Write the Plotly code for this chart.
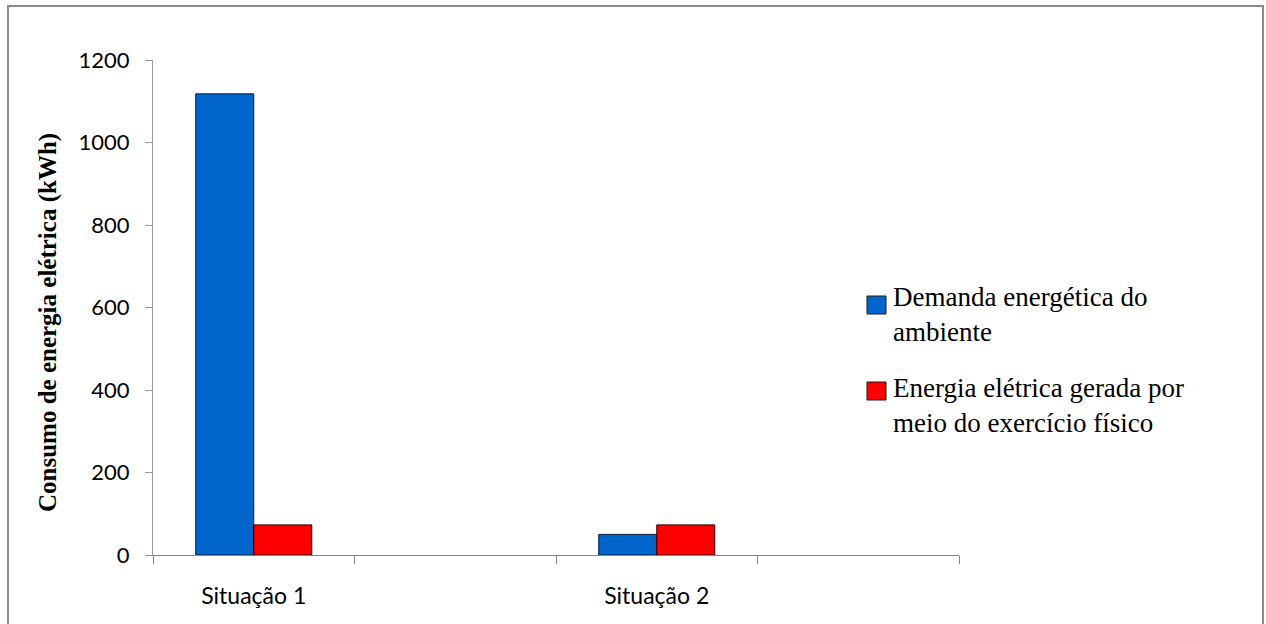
import plotly.graph_objects as go

# Category slots on the x axis (two blank slots keep the spacing)
categories = ["Situação 1", " ", "Situação 2", "  "]
demanda = [1118, None, 50, None]
gerada = [73, None, 73, None]

series_names = [
    "Demanda energética do<br>ambiente",
    "Energia elétrica gerada por<br>meio do exercício físico",
]
series_colors = ["#0066CC", "#FF0000"]
y_ticks = [0, 200, 400, 600, 800, 1000, 1200]

W, H = 1266, 624
ML, MR, MT, MB = 153, 307, 60, 69
PW, PH = W - ML - MR, H - MT - MB


def px(x):
    return (x - ML) / PW


def py(y):
    return (H - MB - y) / PH


fig = go.Figure()
for vals, name, color, edge in [
    (demanda, series_names[0], series_colors[0], "#0b1f3f"),
    (gerada, series_names[1], series_colors[1], "#2a0000"),
]:
    fig.add_trace(go.Bar(
        x=categories, y=vals, name=name,
        marker=dict(color=color, line=dict(color=edge, width=1)),
        showlegend=False,
    ))

# Legend drawn as squares plus text blocks
shapes = []
annotations = []
legend_rows = [(296, 314), (382, 405)]
for (sq_top, text_mid), name, color in zip(legend_rows, series_names, series_colors):
    shapes.append(dict(
        type="rect", xref="paper", yref="paper",
        x0=px(867), x1=px(886), y0=py(sq_top), y1=py(sq_top + 18),
        fillcolor=color, line=dict(color="#1a1a1a", width=1),
    ))
    annotations.append(dict(
        xref="paper", yref="paper", x=px(891), y=py(text_mid),
        xanchor="left", yanchor="middle", align="left", showarrow=False,
        text=name,
        font=dict(family="Liberation Serif", size=27, color="black"),
    ))

# Axis title
annotations.append(dict(
    xref="paper", yref="paper", x=px(48), y=py(323),
    xanchor="center", yanchor="middle", showarrow=False, textangle=-90,
    text="<b>Consumo de energia elétrica (kWh)</b>",
    font=dict(family="Liberation Serif", size=25, color="black"),
))

# Chart frame
shapes.append(dict(
    type="rect", xref="paper", yref="paper",
    x0=px(8), x1=px(1263), y0=py(632), y1=py(6),
    line=dict(color="#8a8a8a", width=2), fillcolor="rgba(0,0,0,0)",
    layer="below",
))

fig.update_layout(
    width=W, height=H,
    margin=dict(l=ML, r=MR, t=MT, b=MB),
    paper_bgcolor="white", plot_bgcolor="white",
    barmode="group", bargap=0.424, bargroupgap=0,
    shapes=shapes, annotations=annotations,
    showlegend=False,
)
fig.update_xaxes(
    type="category", categoryorder="array", categoryarray=categories,
    range=[-0.5, 3.5], tickson="boundaries",
    ticks="outside", ticklen=8, tickcolor="#868686",
    showline=True, linecolor="#868686", linewidth=1,
    showgrid=False, zeroline=False,
    tickfont=dict(family="Lato", size=23, color="black"),
    ticklabelstandoff=20,
)
fig.update_yaxes(
    range=[0, 1200], tickvals=y_ticks,
    ticks="outside", ticklen=7, tickcolor="#9a9a9a",
    showline=True, linecolor="#9a9a9a", linewidth=1,
    showgrid=False, zeroline=False,
    tickfont=dict(family="Lato", size=22, color="black"),
    ticklabelstandoff=11,
)

fig.write_html("out.html")
